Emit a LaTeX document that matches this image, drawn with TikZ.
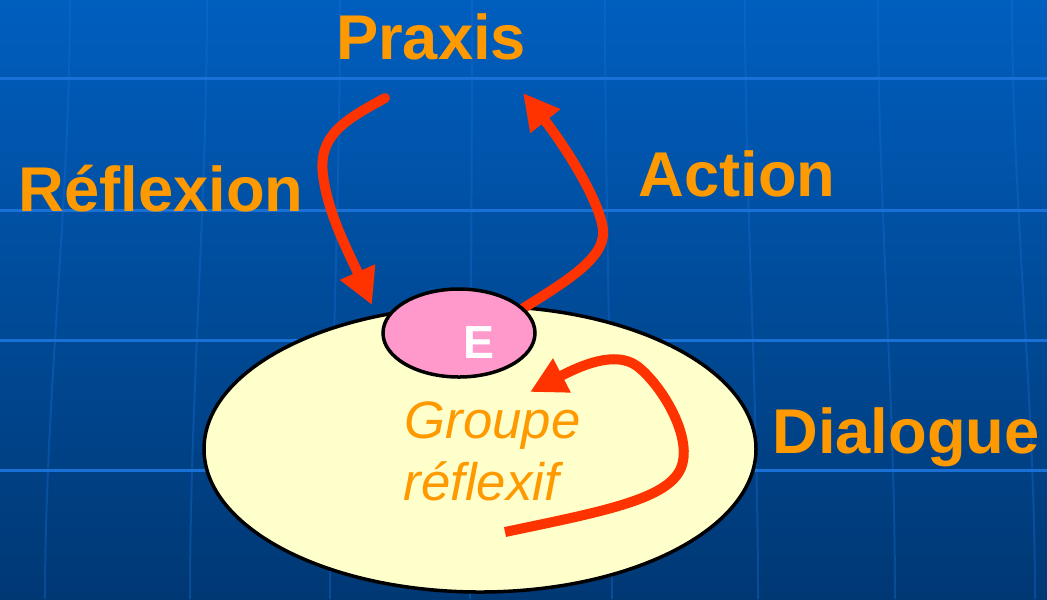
\documentclass[tikz,border=0pt]{standalone}
\usepackage{fontspec}
\setmainfont{Liberation Sans}
\usetikzlibrary{arrows.meta}
\definecolor{bgtop}{RGB}{0,94,190}
\definecolor{bgbot}{RGB}{0,56,116}
\definecolor{gridc}{RGB}{25,112,215}
\definecolor{orangetxt}{RGB}{255,153,0}
\definecolor{redarrow}{RGB}{255,51,0}
\definecolor{pinkE}{RGB}{255,153,204}
\definecolor{yellowG}{RGB}{255,255,204}
\tikzset{
  bigtext/.style={text=orangetxt, font=\bfseries\fontsize{18}{20}\selectfont, inner sep=0pt, anchor=base},
  grouptext/.style={text=orangetxt, font=\itshape\fontsize{15}{17.6}\selectfont, inner sep=0pt, anchor=base west},
  flow/.style={draw=redarrow, line width=1mm, line cap=round, -{Triangle[length=3.6mm, width=3.6mm]}},
  gridline/.style={draw=gridc, line width=0.3mm},
  meridian/.style={draw=gridc, line width=0.2mm, opacity=0.35}
}
\begin{document}
\begin{tikzpicture}[x=0.1mm, y=-0.1mm]
  % background
  \shade[top color=bgtop, bottom color=bgbot] (0,0) rectangle (1047,599);
  \useasboundingbox (0,0) rectangle (1047,599);
  % grid
  \foreach \yy in {78,210,340,470} \draw[gridline] (0,\yy) -- (1047,\yy);
  \foreach \xa/\xb in {70/45, 207/190, 340/330, 472/470, 605/612, 745/758, 878/895, 1012/1035}
    \draw[meridian] (\xa,0) .. controls (\xa,200) and (\xb,400) .. (\xb,599);
  % labels
  \node[bigtext] (praxis) at (431,59) {Praxis};
  \node[bigtext] (reflexion) at (161,211) {Réflexion};
  \node[bigtext] (action) at (737,196) {Action};
  \node[bigtext] (dialogue) at (906,453) {Dialogue};
  % group ellipse
  \draw[fill=yellowG, line width=0.35mm] (480,449) ellipse [x radius=276, y radius=143];
  \node[grouptext] (groupe) at (404,438) {Groupe};
  \node[grouptext] (reflexif) at (403,500) {réflexif};
  % action arrow (starts at E)
  \coordinate (a0) at (522,309);
  \coordinate (a1) at (523,93);
  \draw[flow] (a0) .. controls (565,282) and (606,258) .. (603,230)
                  .. controls (600,200) and (562,142) .. (a1);
  % E ellipse
  \draw[fill=pinkE, line width=0.35mm] (459,333) ellipse [x radius=76, y radius=44];
  \node[text=white, font=\bfseries\fontsize{13.2}{15}\selectfont, inner sep=0pt, anchor=base] (E) at (479,358) {E};
  % reflexion arrow
  \coordinate (r0) at (385,98);
  \coordinate (r1) at (372,305);
  \draw[flow] (r0) .. controls (345,120) and (318,135) .. (323,175)
                  .. controls (328,215) and (350,255) .. (r1);
  % dialogue arrow
  \coordinate (d0) at (505,532);
  \coordinate (d1) at (530,392);
  \draw[flow, line cap=butt] (d0) .. controls (600,512) and (665,500) .. (680,470)
                  .. controls (695,440) and (662,385) .. (637,366)
                  .. controls (615,350) and (580,366) .. (d1);
\end{tikzpicture}
\end{document}
